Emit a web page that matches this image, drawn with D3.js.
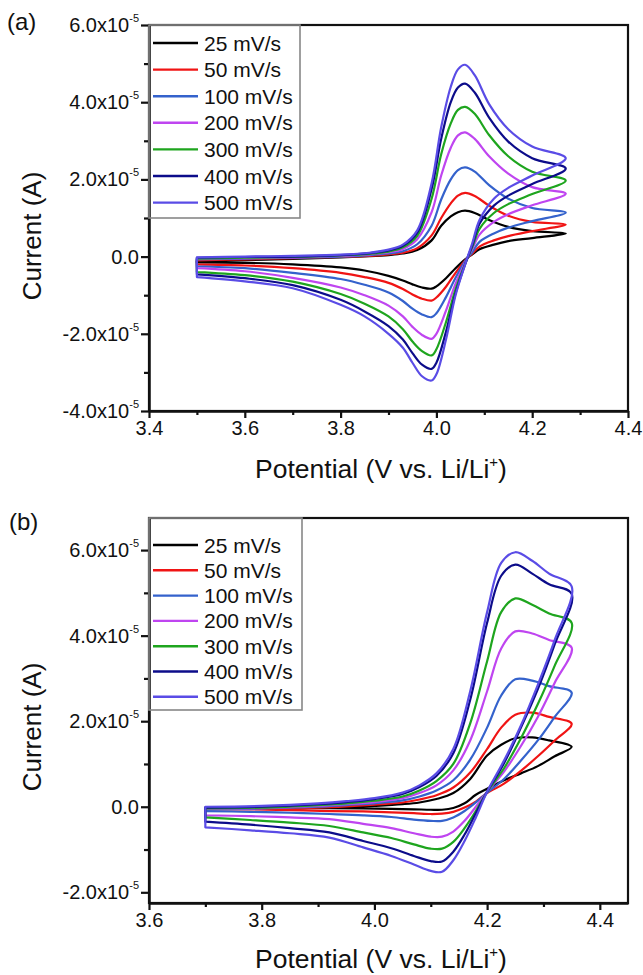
<!DOCTYPE html>
<html>
<head>
<meta charset="utf-8">
<script src="https://cdn.jsdelivr.net/npm/d3@7"></script>
<style>
  html, body { margin: 0; padding: 0; background: #fff; }
  svg { display: block; }
  text { font-family: Arial, "Liberation Sans", sans-serif; fill: #111; }
</style>
</head>
<body>
<svg id="chart" width="643" height="975"></svg>
<script>
// ---------------- data (current in units of 1e-5 A) ----------------
const rates = ["25 mV/s", "50 mV/s", "100 mV/s", "200 mV/s", "300 mV/s", "400 mV/s", "500 mV/s"];
const colors = ["#000000", "#f01414", "#3462cc", "#bf45f0", "#1ea51e", "#0c0c8a", "#5a4ce6"];

// Panel (a)
const vA_fwd = [3.50, 3.60, 3.70, 3.80, 3.86, 3.90, 3.93, 3.96, 3.99, 4.01, 4.03, 4.045, 4.06, 4.08, 4.11, 4.15, 4.20, 4.27];
const iA_fwd = [
  [-0.12, -0.09, -0.06, -0.02, 0.01, 0.04, 0.08, 0.17, 0.42, 0.80, 1.04, 1.15, 1.19, 1.13, 0.95, 0.77, 0.66, 0.60],
  [-0.10, -0.07, -0.04, -0.01, 0.02, 0.06, 0.10, 0.22, 0.55, 1.00, 1.38, 1.58, 1.65, 1.57, 1.32, 1.06, 0.90, 0.83],
  [-0.07, -0.05, -0.03, 0.00, 0.04, 0.08, 0.14, 0.32, 0.80, 1.48, 2.00, 2.24, 2.31, 2.20, 1.85, 1.50, 1.26, 1.14],
  [-0.06, -0.04, -0.02, 0.02, 0.06, 0.11, 0.20, 0.45, 1.15, 2.10, 2.82, 3.14, 3.22, 3.05, 2.60, 2.15, 1.80, 1.63],
  [-0.05, -0.03, -0.01, 0.03, 0.07, 0.13, 0.24, 0.54, 1.50, 2.65, 3.45, 3.80, 3.88, 3.70, 3.15, 2.60, 2.20, 1.97],
  [-0.03, -0.01, 0.00, 0.04, 0.09, 0.16, 0.28, 0.62, 1.75, 3.05, 4.00, 4.38, 4.48, 4.25, 3.60, 2.98, 2.55, 2.28],
  [-0.02, 0.00, 0.02, 0.05, 0.10, 0.18, 0.31, 0.68, 1.90, 3.35, 4.40, 4.85, 4.97, 4.70, 3.95, 3.30, 2.85, 2.55]
];
const vA_rev = [4.27, 4.20, 4.15, 4.12, 4.09, 4.075, 4.06, 4.04, 4.02, 4.00, 3.99, 3.97, 3.95, 3.93, 3.90, 3.85, 3.80, 3.70, 3.60, 3.50];
const iA_rev = [
  [0.60, 0.48, 0.40, 0.31, 0.19, 0.06, -0.07, -0.30, -0.56, -0.77, -0.83, -0.80, -0.72, -0.62, -0.50, -0.36, -0.28, -0.20, -0.16, -0.15],
  [0.83, 0.66, 0.53, 0.42, 0.26, 0.08, -0.10, -0.42, -0.78, -1.06, -1.14, -1.09, -0.98, -0.84, -0.68, -0.53, -0.42, -0.30, -0.23, -0.20],
  [1.14, 0.92, 0.75, 0.60, 0.38, 0.12, -0.12, -0.55, -1.05, -1.47, -1.57, -1.50, -1.35, -1.15, -0.93, -0.73, -0.58, -0.42, -0.30, -0.25],
  [1.63, 1.33, 1.10, 0.90, 0.57, 0.20, -0.15, -0.70, -1.40, -2.00, -2.13, -2.03, -1.82, -1.55, -1.27, -1.00, -0.80, -0.55, -0.38, -0.30],
  [1.97, 1.62, 1.36, 1.13, 0.72, 0.25, -0.18, -0.85, -1.70, -2.40, -2.56, -2.45, -2.20, -1.88, -1.55, -1.22, -0.97, -0.65, -0.48, -0.40],
  [2.28, 1.88, 1.58, 1.32, 0.85, 0.30, -0.20, -0.95, -1.95, -2.75, -2.91, -2.80, -2.50, -2.15, -1.80, -1.42, -1.12, -0.74, -0.56, -0.46],
  [2.55, 2.10, 1.78, 1.50, 0.95, 0.35, -0.20, -1.00, -2.15, -3.05, -3.21, -3.10, -2.75, -2.36, -2.00, -1.55, -1.25, -0.82, -0.64, -0.53]
];

// Panel (b)
const vB_fwd = [3.70, 3.80, 3.90, 3.95, 4.00, 4.05, 4.08, 4.11, 4.14, 4.17, 4.20, 4.225, 4.25, 4.28, 4.31, 4.35];
const iB_fwd = [
  [-0.05, -0.04, -0.03, -0.01, 0.02, 0.06, 0.10, 0.18, 0.32, 0.65, 1.20, 1.45, 1.60, 1.62, 1.55, 1.40],
  [-0.06, -0.05, -0.02, 0.01, 0.05, 0.10, 0.17, 0.27, 0.45, 0.80, 1.35, 1.85, 2.15, 2.20, 2.10, 1.94],
  [-0.06, -0.04, 0.00, 0.04, 0.08, 0.15, 0.24, 0.38, 0.62, 1.10, 1.85, 2.60, 2.98, 2.95, 2.82, 2.67],
  [-0.05, -0.03, 0.02, 0.06, 0.11, 0.20, 0.32, 0.50, 0.85, 1.55, 2.70, 3.70, 4.10, 4.05, 3.90, 3.72],
  [-0.04, -0.02, 0.04, 0.08, 0.14, 0.24, 0.38, 0.60, 1.00, 1.95, 3.40, 4.55, 4.87, 4.72, 4.52, 4.30],
  [-0.02, 0.00, 0.06, 0.11, 0.18, 0.30, 0.46, 0.72, 1.25, 2.50, 4.30, 5.40, 5.66, 5.45, 5.20, 4.98],
  [0.00, 0.02, 0.08, 0.13, 0.20, 0.33, 0.50, 0.78, 1.35, 2.70, 4.55, 5.70, 5.95, 5.75, 5.45, 5.15]
];
const vB_rev = [4.35, 4.32, 4.29, 4.26, 4.23, 4.20, 4.18, 4.16, 4.14, 4.12, 4.10, 4.07, 4.03, 3.98, 3.92, 3.85, 3.78, 3.70];
const iB_rev = [
  [1.40, 1.18, 0.95, 0.78, 0.62, 0.42, 0.28, 0.08, -0.03, -0.07, -0.07, -0.06, -0.05, -0.04, -0.03, -0.03, -0.02, -0.02],
  [1.94, 1.55, 1.18, 0.84, 0.54, 0.32, 0.12, -0.02, -0.12, -0.16, -0.17, -0.15, -0.13, -0.11, -0.10, -0.08, -0.06, -0.05],
  [2.67, 2.10, 1.55, 1.08, 0.65, 0.33, 0.10, -0.10, -0.25, -0.33, -0.33, -0.30, -0.24, -0.20, -0.17, -0.14, -0.12, -0.10],
  [3.72, 2.90, 2.10, 1.42, 0.82, 0.35, 0.00, -0.33, -0.58, -0.70, -0.70, -0.62, -0.50, -0.40, -0.29, -0.25, -0.22, -0.20],
  [4.30, 3.30, 2.40, 1.60, 0.90, 0.35, -0.10, -0.50, -0.82, -0.98, -0.98, -0.88, -0.73, -0.60, -0.45, -0.37, -0.31, -0.25],
  [4.98, 3.80, 2.75, 1.85, 1.02, 0.35, -0.15, -0.65, -1.05, -1.28, -1.27, -1.15, -0.97, -0.80, -0.60, -0.50, -0.42, -0.35],
  [5.15, 3.90, 2.85, 1.90, 1.08, 0.35, -0.25, -0.80, -1.25, -1.52, -1.50, -1.35, -1.15, -0.95, -0.72, -0.62, -0.55, -0.48]
];

// Axis ticks
const xTicksA = [3.4, 3.6, 3.8, 4.0, 4.2, 4.4];
const xMinorA = [3.5, 3.7, 3.9, 4.1, 4.3];
const yTicksA = [-4, -2, 0, 2, 4, 6];
const yMinorA = [-3, -1, 1, 3, 5];
const xTicksB = [3.6, 3.8, 4.0, 4.2, 4.4];
const xMinorB = [3.7, 3.9, 4.1, 4.3];
const yTicksB = [-2, 0, 2, 4, 6];
const yMinorB = [-1, 1, 3, 5];

// ---------------- drawing ----------------
const svg = d3.select("#chart");

function drawPanel(cfg) {
  const x = d3.scaleLinear().domain(cfg.xDomain).range([cfg.left, cfg.right]);
  const y = d3.scaleLinear().domain(cfg.yDomain).range([cfg.bottom, cfg.top]);
  const g = svg.append("g");

  // curves
  const line = d3.line().x(d => x(d[0])).y(d => y(d[1])).curve(d3.curveCatmullRom.alpha(0.5));
  rates.forEach((r, k) => {
    const pts = cfg.vf.map((v, i) => [v, cfg.iF[k][i]])
      .concat(cfg.vr.slice(1).map((v, i) => [v, cfg.iR[k][i + 1]]));
    g.append("path")
      .attr("d", line(pts) + "Z")
      .attr("fill", "none")
      .attr("stroke", colors[k])
      .attr("stroke-width", 2.2)
      .attr("stroke-linejoin", "round");
  });

  // frame (top/right)
  g.append("rect")
    .attr("x", cfg.left).attr("y", cfg.top)
    .attr("width", cfg.right - cfg.left).attr("height", cfg.bottom - cfg.top)
    .attr("fill", "none").attr("stroke", "#111").attr("stroke-width", 2.2);

  // x axis
  const xAxis = g.append("g").attr("transform", `translate(0,${cfg.bottom})`)
    .call(d3.axisBottom(x).tickValues(cfg.xT).tickSizeInner(7).tickSizeOuter(0).tickPadding(3)
      .tickFormat(d3.format(".1f")));
  xAxis.select(".domain").attr("stroke-width", 2.5).attr("stroke", "#111");
  xAxis.selectAll(".tick line").attr("stroke-width", 2.2).attr("stroke", "#111");
  xAxis.selectAll(".tick text").attr("font-size", 20).attr("fill", "#222").attr("dy", "0.71em");
  g.append("g").attr("transform", `translate(0,${cfg.bottom})`)
    .call(d3.axisBottom(x).tickValues(cfg.xM).tickSize(4).tickFormat(""))
    .call(s => s.select(".domain").remove())
    .selectAll(".tick line").attr("stroke-width", 2.2).attr("stroke", "#111");

  // y axis
  const yAxis = g.append("g").attr("transform", `translate(${cfg.left},0)`)
    .call(d3.axisLeft(y).tickValues(cfg.yT).tickSizeInner(8).tickSizeOuter(0).tickPadding(2)
      .tickFormat(d => d === 0 ? "0.0" : (d < 0 ? "-" : "") + Math.abs(d).toFixed(1) + "x10"));
  yAxis.select(".domain").attr("stroke-width", 2.5).attr("stroke", "#111");
  yAxis.selectAll(".tick line").attr("stroke-width", 2.2).attr("stroke", "#111");
  yAxis.selectAll(".tick text").attr("font-size", 20).attr("fill", "#222")
    .each(function(d) {
      if (d !== 0) {
        d3.select(this).append("tspan").attr("font-size", 11).attr("dy", "-0.9em").text("-5");
      }
    });
  g.append("g").attr("transform", `translate(${cfg.left},0)`)
    .call(d3.axisLeft(y).tickValues(cfg.yM).tickSize(5).tickFormat(""))
    .call(s => s.select(".domain").remove())
    .selectAll(".tick line").attr("stroke-width", 2.2).attr("stroke", "#111");

  // legend
  const lg = g.append("g");
  lg.append("rect")
    .attr("x", cfg.left).attr("y", cfg.top)
    .attr("width", cfg.legW).attr("height", cfg.legH)
    .attr("fill", "none").attr("stroke", "#888").attr("stroke-width", 1.6);
  rates.forEach((r, k) => {
    const yy = cfg.legY0 + k * cfg.legStep;
    lg.append("line").attr("x1", cfg.left + 4).attr("x2", cfg.left + 49)
      .attr("y1", yy).attr("y2", yy).attr("stroke", colors[k]).attr("stroke-width", 2.4);
    lg.append("text").attr("x", cfg.left + 55).attr("y", yy + 7.5)
      .attr("font-size", 21).attr("fill", "#1a1a1a").text(r);
  });

  // axis titles
  const xt = g.append("text").attr("x", cfg.xTitleX).attr("y", cfg.xTitleY)
    .attr("text-anchor", "middle").attr("font-size", 26.5).attr("fill", "#1a1a1a");
  xt.append("tspan").text("Potential (V vs. Li/Li");
  xt.append("tspan").attr("font-size", 15).attr("dy", "-0.75em").text("+");
  xt.append("tspan").attr("dy", "0.42em").text(")");

  g.append("text")
    .attr("transform", `translate(${cfg.yTitleX},${cfg.yTitleY}) rotate(-90)`)
    .attr("text-anchor", "middle").attr("font-size", 26).attr("fill", "#1a1a1a")
    .text("Current (A)");

  g.append("text").attr("x", cfg.labX).attr("y", cfg.labY)
    .attr("font-size", 24).attr("fill", "#1a1a1a").text(cfg.label);
}

drawPanel({
  label: "(a)", labX: 7, labY: 30,
  left: 149, right: 628, top: 25, bottom: 411,
  xDomain: [3.4, 4.4], yDomain: [-4, 6],
  xT: xTicksA, xM: xMinorA, yT: yTicksA, yM: yMinorA,
  vf: vA_fwd, iF: iA_fwd, vr: vA_rev, iR: iA_rev,
  legW: 151, legH: 193, legY0: 43, legStep: 26.6,
  xTitleX: 381, xTitleY: 478, yTitleX: 41, yTitleY: 236
});

drawPanel({
  label: "(b)", labX: 9, labY: 530,
  left: 149, right: 628, top: 518, bottom: 903,
  xDomain: [3.6, 4.45], yDomain: [-2.25, 6.75],
  xT: xTicksB, xM: xMinorB, yT: yTicksB, yM: yMinorB,
  vf: vB_fwd, iF: iB_fwd, vr: vB_rev, iR: iB_rev,
  legW: 153, legH: 192, legY0: 545, legStep: 25.3,
  xTitleX: 381, xTitleY: 968, yTitleX: 41, yTitleY: 727
});
</script>
</body>
</html>
